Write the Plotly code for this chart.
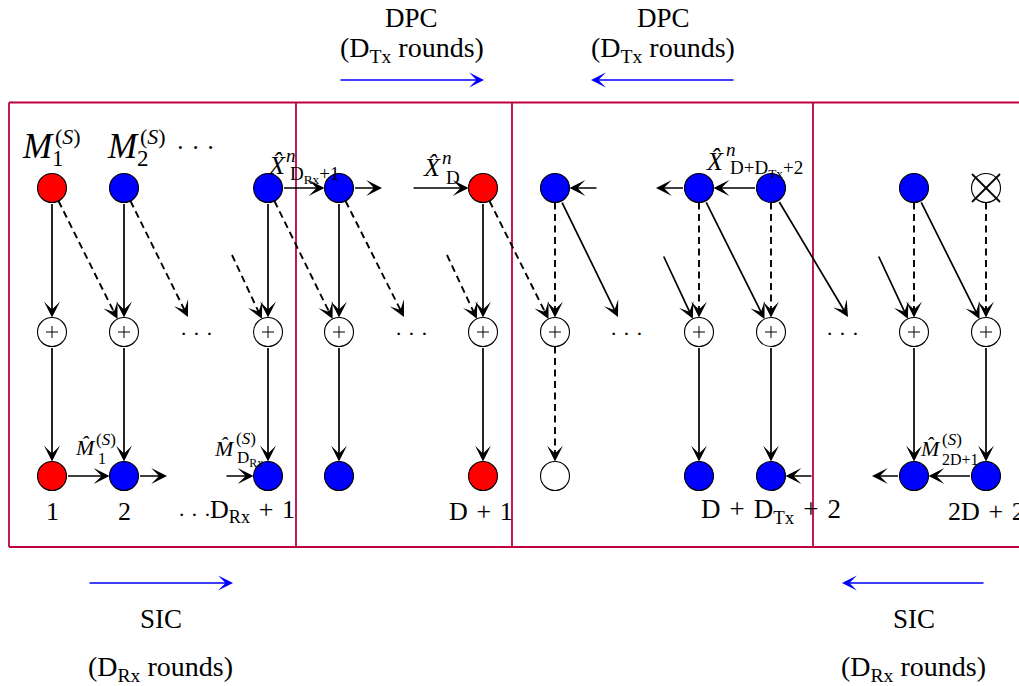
import math
import plotly.graph_objects as go

# ---------------- data ----------------
col_x = [52, 124, 268, 339, 483, 555, 699, 771, 914, 986]          # node columns
row_top, row_mid, row_bot = 188, 332, 476                         # node rows
top_fill = ["red", "blue", "blue", "blue", "red", "blue", "blue", "blue", "blue", "cross"]
bot_fill = ["red", "blue", "blue", "blue", "red", "white", "blue", "blue", "blue", "blue"]
top_to_mid_style = ["solid"] * 5 + ["dash"] * 5
mid_to_bot_style = ["solid"] * 5 + ["dash"] + ["solid"] * 4
# diagonal links top node -> plus node (int = column, tuple = loose end)
diag_links = [
    (0, 1, "dash"), (1, (188, 317), "dash"), ((232, 255), 2, "dash"), (2, 3, "dash"),
    (3, (404, 317), "dash"), ((447, 255), 4, "dash"), (4, 5, "dash"),
    (5, (618, 317), "solid"), ((663, 255), 6, "solid"), (6, 7, "solid"),
    (7, (848, 317), "solid"), ((878, 255), 8, "solid"), (8, 9, "solid"),
]
# horizontal links (int = column, float = loose end)
top_links = [(2, 3), (3, 382.0), (412.0, 4), (598.0, 5), (6, 656.0), (7, 6)]
bot_links = [(0, 1), (1, 167.0), (225.0, 2), (813.0, 7), (8, 872.0), (9, 8)]
box_edges = [9, 296, 512, 813]
box_top, box_bot = 102.5, 547
phase_arrows = [  # (x_start, x_end, y, title, subtitle)
    (339, 484, 80, "DPC", "(D<sub>Tx</sub> rounds)"),
    (735, 591, 80, "DPC", "(D<sub>Tx</sub> rounds)"),
    (88, 233, 583, "SIC", "(D<sub>Rx</sub> rounds)"),
    (985, 842, 583, "SIC", "(D<sub>Rx</sub> rounds)"),
]

R = 14.5
FONT = "Liberation Serif"
BOXC = "rgb(191,0,64)"
LW = 1.7
colors = {"red": "#FF0000", "blue": "#0000FF", "white": "#FFFFFF", "cross": "#FFFFFF"}
SP = "\u2004"

fig = go.Figure()
shapes = []
annos = []


def arrow(x0, y0, x1, y1, dash="solid", color="black", width=LW):
    L = math.hypot(x1 - x0, y1 - y0)
    ux, uy = (x1 - x0) / L, (y1 - y0) / L
    if dash == "dash":
        shapes.append(dict(type="line", x0=x0, y0=y0, x1=x1 - ux * 8, y1=y1 - uy * 8,
                           line=dict(color=color, width=1.9, dash="7px,4.5px"), layer="below"))
        x0, y0 = x1 - ux * 11, y1 - uy * 11
    annos.append(dict(x=x1, y=y1, ax=x0, ay=y0, xref="x", yref="y", axref="x", ayref="y",
                      text="", showarrow=True, arrowhead=3, arrowsize=1.55, arrowwidth=width,
                      arrowcolor=color, standoff=0, startstandoff=0))


def edge(cx, cy, tx, ty, r=R):
    L = math.hypot(tx - cx, ty - cy)
    return cx + (tx - cx) / L * r, cy + (ty - cy) / L * r


# boxes
for xe in box_edges:
    shapes.append(dict(type="line", x0=xe, x1=xe, y0=box_top, y1=box_bot,
                       line=dict(color=BOXC, width=1.8), layer="below"))
for yy in (box_top, box_bot):
    shapes.append(dict(type="line", x0=box_edges[0], x1=1030, y0=yy, y1=yy,
                       line=dict(color=BOXC, width=1.8), layer="below"))

# vertical links
for cx, s1, s2 in zip(col_x, top_to_mid_style, mid_to_bot_style):
    arrow(cx, row_top + R, cx, row_mid - R, s1)
    arrow(cx, row_mid + R, cx, row_bot - R, s2)

# diagonal links
for src, dst, st in diag_links:
    if isinstance(src, int):
        sx, sy = col_x[src], row_top
    else:
        sx, sy = src
    if isinstance(dst, int):
        tx, ty = col_x[dst], row_mid
        ex, ey = edge(tx, ty, sx, sy)
    else:
        ex, ey = dst
    if isinstance(src, int):
        sx, sy = edge(sx, sy, ex, ey)
    arrow(sx, sy, ex, ey, st)

# horizontal links
for links, yy in ((top_links, row_top), (bot_links, row_bot)):
    for a, b in links:
        xa = col_x[a] if isinstance(a, int) else a
        xb = col_x[b] if isinstance(b, int) else b
        d = 1 if xb > xa else -1
        if isinstance(a, int):
            xa += d * R
        if isinstance(b, int):
            xb -= d * R
        arrow(xa, yy, xb, yy)

# nodes
fig.add_trace(go.Scatter(x=col_x, y=[row_top] * len(col_x), mode="markers", hoverinfo="skip",
                         marker=dict(size=2 * R, color=[colors[c] for c in top_fill],
                                     line=dict(color="black", width=1.1))))
fig.add_trace(go.Scatter(x=col_x, y=[row_mid] * len(col_x), mode="markers", hoverinfo="skip",
                         marker=dict(size=2 * R, color="white", line=dict(color="black", width=1.1))))
fig.add_trace(go.Scatter(x=col_x, y=[row_bot] * len(col_x), mode="markers", hoverinfo="skip",
                         marker=dict(size=2 * R, color=[colors[c] for c in bot_fill],
                                     line=dict(color="black", width=1.1))))
for cx in col_x:  # plus signs inside the adder nodes
    p = 6
    shapes.append(dict(type="line", x0=cx - p, x1=cx + p, y0=row_mid, y1=row_mid,
                       line=dict(color="black", width=1), layer="above"))
    shapes.append(dict(type="line", x0=cx, x1=cx, y0=row_mid - p, y1=row_mid + p,
                       line=dict(color="black", width=1), layer="above"))
for cx, f in zip(col_x, top_fill):
    if f == "cross":
        k = R - 0.5
        for sgn in (1, -1):
            shapes.append(dict(type="line", x0=cx - k, x1=cx + k, y0=row_top - sgn * k, y1=row_top + sgn * k,
                               line=dict(color="black", width=1.8), layer="above"))

# phase arrows & captions
for xs, xe, yy, t1, t2 in phase_arrows:
    arrow(xs, yy, xe, yy, color="blue", width=1.6)
    xm = (xs + xe) / 2
    ya, yb = (18, 49) if yy < 300 else (619, 668)
    annos.append(dict(x=xm, y=ya, text=t1, showarrow=False, font=dict(family=FONT, size=27, color="black")))
    annos.append(dict(x=xm, y=yb, text=t2, showarrow=False, font=dict(family=FONT, size=28, color="black")))


def txt(x, y, s, size, anchor="center"):
    annos.append(dict(x=x, y=y, text=s, showarrow=False, xanchor=anchor, yanchor="middle",
                      font=dict(family=FONT, size=size, color="black")))


# top labels
txt(38, 146, "<i>M</i>", 35); txt(58, 158, "1", 23); txt(68, 136, "(<i>S</i>)", 22)
txt(123, 146, "<i>M</i>", 35); txt(143, 158, "2", 23); txt(153, 136, "(<i>S</i>)", 22)
txt(195, 147, "· · ·", 26)
txt(277, 165, "<i>X\u0302</i>", 26); txt(291, 155, "<i>n</i>", 19); txt(288, 175, "D<sub>Rx</sub>+1", 19, "left")
txt(432, 167, "<i>X\u0302</i>", 26); txt(447, 157, "<i>n</i>", 19); txt(444, 177, "D", 19, "left")
txt(715, 161, "<i>X\u0302</i>", 26); txt(731, 149, "<i>n</i>", 19); txt(728, 169, "D+D<sub>Tx</sub>+2", 19, "left")
# middle dots
for xd in (196, 411, 626, 842):
    txt(xd, 333, "· · ·", 22)
# bottom hat labels
txt(85, 447, "<i>M\u0302</i>", 22); txt(106, 439, "(<i>S</i>)", 17); txt(96, 458, "1", 16, "left")
txt(224, 448, "<i>M\u0302</i>", 22); txt(246, 438, "(<i>S</i>)", 17); txt(235, 459, "D<sub>Rx</sub>", 17, "left")
txt(930, 448, "<i>M\u0302</i>", 22); txt(952, 439, "(<i>S</i>)", 17); txt(940, 459, "2D+1", 16, "left")
# bottom indices
txt(52, 511, "1", 26); txt(124, 511, "2", 26)
txt(194, 514, "· · ·", 22)
txt(208, 511, "D<sub>Rx</sub>" + SP + "+" + SP + "1", 26, "left")
txt(481, 511, "D" + SP + "+" + SP + "1", 26)
txt(699, 511, "D" + SP + "+" + SP + "D<sub>Tx</sub>" + SP + "+" + SP + "2", 27, "left")
txt(946, 511, "2D" + SP + "+" + SP + "2", 26, "left")

fig.update_layout(
    width=1019, height=686, margin=dict(l=0, r=0, t=0, b=0),
    paper_bgcolor="white", plot_bgcolor="white", showlegend=False,
    xaxis=dict(range=[0, 1019], visible=False, fixedrange=True),
    yaxis=dict(range=[686, 0], visible=False, fixedrange=True),
    shapes=shapes, annotations=annos,
)
fig.write_html("out.html", config={"displayModeBar": False},
               post_script="document.body.style.margin='0';")
